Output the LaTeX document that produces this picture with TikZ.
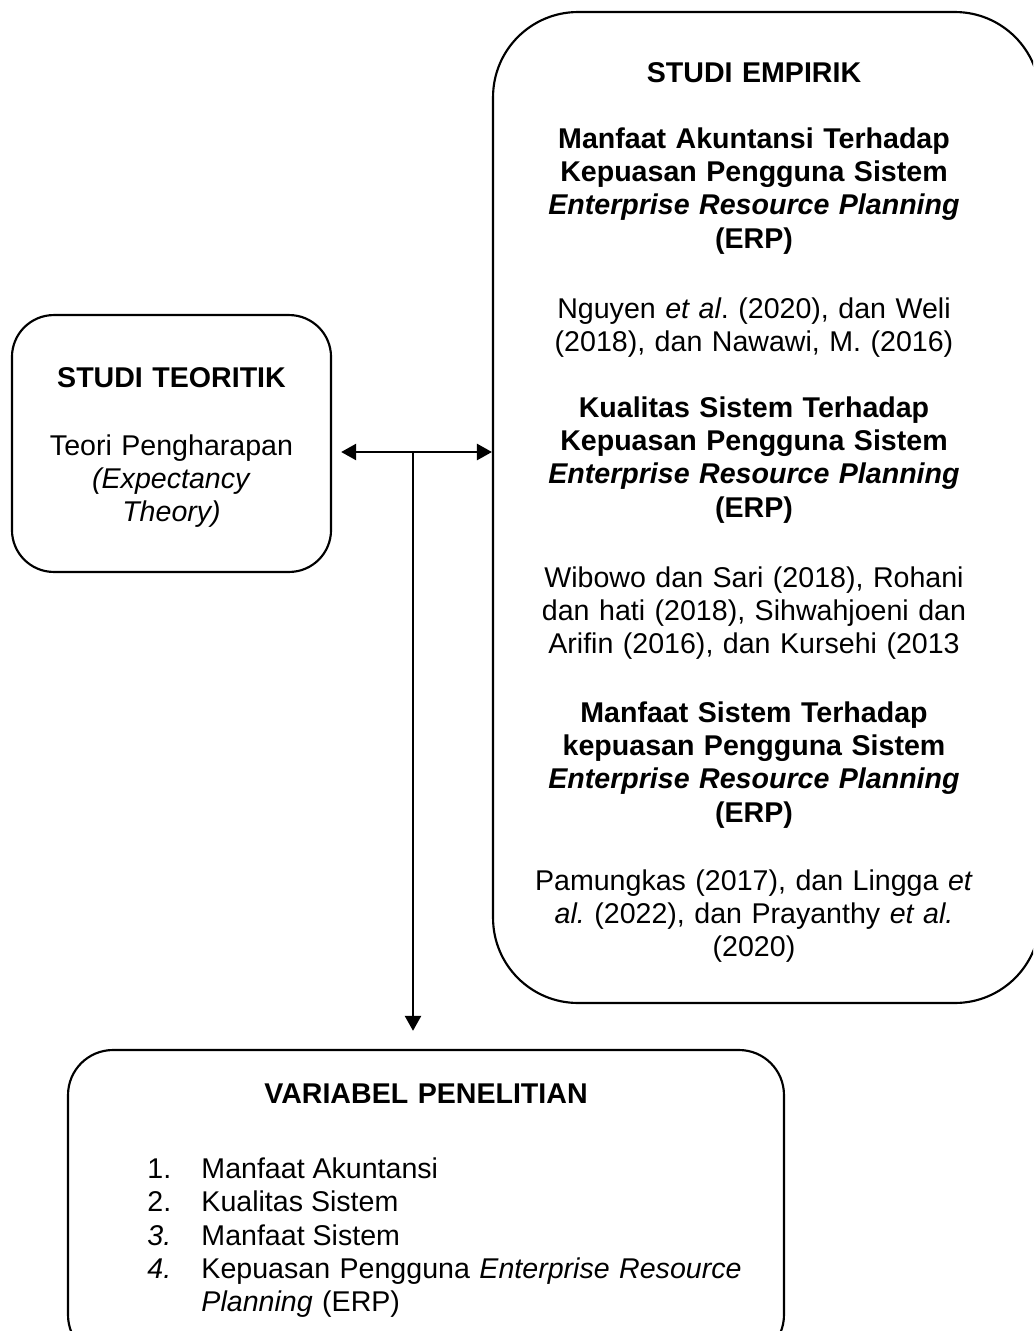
\documentclass[tikz,border=0pt]{standalone}
\usepackage{fontspec}
\setmainfont{Liberation Sans}
\usetikzlibrary{arrows.meta}
\newcommand{\pxu}{0.42pt}
\frenchspacing

\tikzset{
  boxnode/.style={draw, line width=0.9pt, inner sep=0pt},
  txt/.style={font=\fontsize{12pt}{14pt}\selectfont, align=center, anchor=base, inner sep=0pt},
  itm/.style={font=\fontsize{12pt}{14pt}\selectfont, align=left, anchor=base west, inner sep=0pt},
  arr/.style={line width=1.1pt, -{Triangle[length=6.3pt,width=6.7pt]}},
  darr/.style={line width=1.1pt, {Triangle[length=6.3pt,width=6.7pt]}-{Triangle[length=6.3pt,width=6.7pt]}},
}

\begin{document}
\begin{tikzpicture}[x=\pxu, y=-\pxu]
\useasboundingbox (0,0) rectangle (1033,1331);
\clip (0,0) rectangle (1033,1331);
% boxes
\node[boxnode, rounded corners=17.6pt, minimum width=134pt, minimum height=107.9pt] (teori) at (171.5,443.5) {};
\node[boxnode, rounded corners=35.7pt, minimum width=229.7pt, minimum height=416.2pt] (empirik) at (766.5,507.5) {};
\node[boxnode, rounded corners=18.9pt, minimum width=300.7pt, minimum height=130.2pt] (variabel) at (426,1205) {};
% studi teoritik
\node[txt, text width=126pt] (teorihead) at (171.5,387) {\bfseries STUDI TEORITIK};
\node[txt, text width=126pt] (teoribody) at (171.5,455) {Teori Pengharapan\\\textit{(Expectancy}\\\textit{Theory)}};
% studi empirik
\node[txt, text width=201.6pt] (empirikhead) at (754,82) {\bfseries STUDI EMPIRIK};
\node[txt, text width=201.6pt] (manfaatak) at (754,148) {\bfseries Manfaat Akuntansi Terhadap\\Kepuasan Pengguna Sistem\\\textit{Enterprise Resource Planning}\\(ERP)};
\node[txt, text width=201.6pt] (citeak) at (754,318) {Nguyen \textit{et al}. (2020), dan Weli\\(2018), dan Nawawi, M. (2016)};
\node[txt, text width=201.6pt] (kualitas) at (754,417) {\bfseries Kualitas Sistem Terhadap\\Kepuasan Pengguna Sistem\\\textit{Enterprise Resource Planning}\\(ERP)};
\node[txt, text width=201.6pt] (citekual) at (754,587) {Wibowo dan Sari (2018), Rohani\\dan hati (2018), Sihwahjoeni dan\\Arifin (2016), dan Kursehi (2013};
\node[txt, text width=201.6pt] (manfaatsis) at (754,722) {\bfseries Manfaat Sistem Terhadap\\kepuasan Pengguna Sistem\\\textit{Enterprise Resource Planning}\\(ERP)};
\node[txt, text width=201.6pt] (citesis) at (754,890) {Pamungkas (2017), dan Lingga \textit{et}\\\textit{al.} (2022), dan Prayanthy \textit{et al.}\\(2020)};
% variabel penelitian
\node[txt, text width=290pt] (varhead) at (426,1103) {\bfseries VARIABEL PENELITIAN};
\node[itm] (n1) at (147,1178) {1.};
\node[itm] (n2) at (147,1211) {2.};
\node[itm] (n3) at (147,1245) {\textit{3.}};
\node[itm] (n4) at (147,1278) {\textit{4.}};
\node[itm] (v1) at (201,1178) {Manfaat Akuntansi};
\node[itm] (v2) at (201,1211) {Kualitas Sistem};
\node[itm] (v3) at (201,1245) {Manfaat Sistem};
\node[itm, text width=235pt] (v4) at (201,1278) {Kepuasan Pengguna \textit{Enterprise Resource}\\\textit{Planning} (ERP)};
% connectors
\coordinate (junc) at (413,452);
\draw[darr, shorten <=3.8pt] (teori.east |- junc) -- (empirik.west |- junc);
\draw[arr, shorten >=7.6pt] (junc) -- (junc |- variabel.north);
\end{tikzpicture}
\end{document}
